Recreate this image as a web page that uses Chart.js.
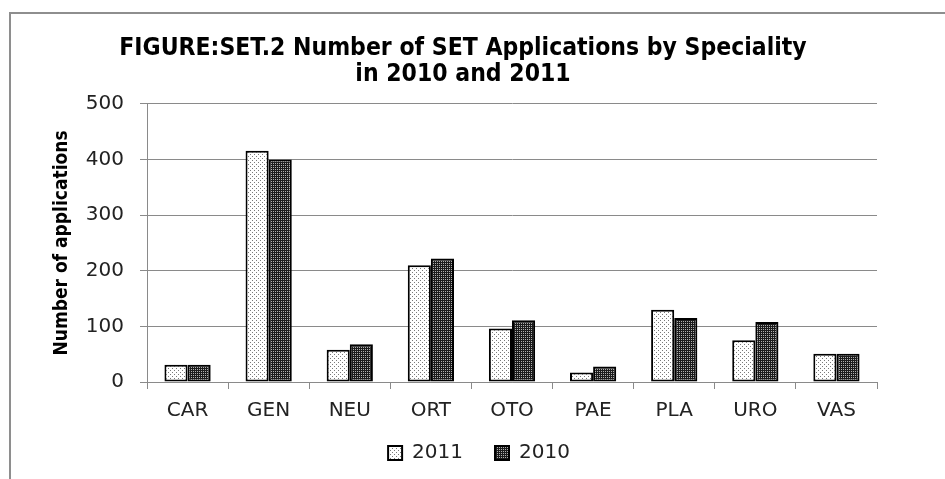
<!DOCTYPE html>
<html>
<head>
<meta charset="utf-8">
<script src="https://cdn.jsdelivr.net/npm/chart.js@4/dist/chart.umd.min.js"></script>
<style>
  html, body { margin: 0; padding: 0; background: #fff; overflow: hidden; }
  #wrap { width: 945px; height: 479px; overflow: hidden; }
</style>
</head>
<body>
<div id="wrap"><canvas id="chart" width="945" height="501"></canvas></div>
<script>
const categories = ['CAR', 'GEN', 'NEU', 'ORT', 'OTO', 'PAE', 'PLA', 'URO', 'VAS'];
const apps2011 = [31, 416, 58, 210, 96, 17, 130, 75, 51];
const apps2010 = [31, 400, 68, 222, 111, 28, 115, 108, 51];
const yTicks = [0, 100, 200, 300, 400, 500];

// dotted fills like the original print-style patterns
function makePattern(bg, dot, cells) {
    let c = document.createElement('canvas');
    c.width = 4;
    c.height = 4;
    let g = c.getContext('2d');
    g.fillStyle = bg;
    g.fillRect(0, 0, 4, 4);
    g.fillStyle = dot;
    cells.forEach(p => g.fillRect(p[0], p[1], 1, 1));
    return g.createPattern(c, 'repeat');
}

let ctx = document.getElementById('chart').getContext('2d'),
    lightFill = makePattern('#ffffff', '#7a7a7a', [[0, 0], [2, 2]]),
    darkFill = makePattern('#1c1c1c', '#b0b0b0', [[1, 1], [3, 1], [1, 3], [3, 3]]);

const frame = {
    id: 'frame',
    beforeDraw: (chart) => {
        let c = chart.ctx;
        c.save();
        c.fillStyle = '#ffffff';
        c.fillRect(0, 0, chart.width, chart.height);
        c.strokeStyle = '#8e8e8e';
        c.lineWidth = 2;
        c.beginPath();
        c.moveTo(10, chart.height);
        c.lineTo(10, 13);
        c.lineTo(chart.width, 13);
        c.stroke();
        c.restore();
    }
};

// the legend needs wide gaps between items but sits close under the axis
const legendLift = {
    id: 'legendLift',
    afterLayout: (chart) => {
        if (chart.legend) {
            chart.legend.top -= 22;
            chart.legend.bottom -= 22;
            chart.legend.left += 16;
            chart.legend.right += 16;
        }
    }
};

let chart = new Chart(ctx, {
    type: 'bar',
    data: {
        labels: categories,
        datasets: [
            {
                label: '2011',
                data: apps2011,
                backgroundColor: lightFill,
                borderColor: '#000',
                borderWidth: 2,
                borderSkipped: false
            },
            {
                label: '2010',
                data: apps2010,
                backgroundColor: darkFill,
                borderColor: '#000',
                borderWidth: 2,
                borderSkipped: false
            }
        ]
    },
    options: {
        responsive: false,
        animation: false,
        layout: { padding: { left: 49, right: 68, top: 36, bottom: 6 } },
        datasets: { bar: { categoryPercentage: 0.57, barPercentage: 1 } },
        plugins: {
            title: {
                display: true,
                text: ['FIGURE:SET.2 Number of SET Applications by Speciality', 'in 2010 and 2011'],
                color: '#000',
                font: { family: 'DejaVu Sans Condensed', size: 24.5, weight: 'bold', lineHeight: 1.04 },
                padding: { top: 0, bottom: 17 }
            },
            legend: {
                position: 'bottom',
                labels: {
                    color: '#222',
                    font: { family: 'DejaVu Sans', size: 20 },
                    boxWidth: 14,
                    boxHeight: 14,
                    padding: 32
                }
            },
            tooltip: { enabled: false }
        },
        scales: {
            x: {
                grid: { drawOnChartArea: false, drawTicks: true, tickLength: 7, color: '#8a8a8a', offset: true },
                border: { display: true, color: '#8a8a8a', width: 1 },
                ticks: { color: '#222', font: { family: 'DejaVu Sans', size: 20 }, padding: 10 }
            },
            y: {
                min: 0,
                max: 500,
                afterBuildTicks: (scale) => { scale.ticks = yTicks.map(v => ({ value: v })); },
                afterFit: (scale) => { scale.width = 147 - 49; },
                grid: { color: '#8a8a8a', tickLength: 7 },
                border: { display: true, color: '#8a8a8a', width: 1 },
                ticks: { color: '#222', font: { family: 'DejaVu Sans', size: 20 }, padding: 16 },
                title: {
                    display: true,
                    text: 'Number of applications',
                    color: '#000',
                    font: { family: 'DejaVu Sans Condensed', size: 19, weight: 'bold' },
                    padding: 2
                }
            }
        }
    },
    plugins: [frame, legendLift]
});
</script>
</body>
</html>
